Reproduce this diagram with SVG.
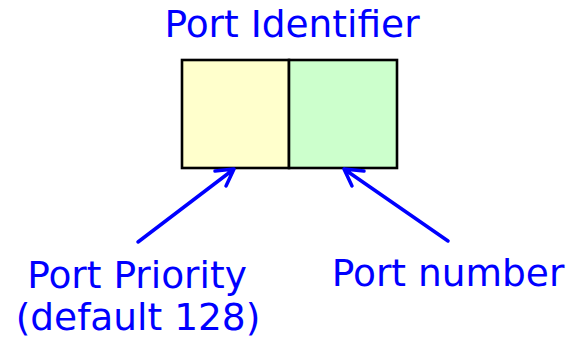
<svg xmlns="http://www.w3.org/2000/svg" width="569" height="340" viewBox="0 0 569 340">
  <style>
    .lbl { font-family: "DejaVu Sans", Verdana, sans-serif; font-size: 37.5px; fill: #0000ff; text-anchor: middle; }
    .field { stroke: #000; stroke-width: 2.6; }
    .arrow { stroke: #0000ff; stroke-width: 3.5; fill: none; stroke-linecap: round; stroke-linejoin: round; }
  </style>
  <rect width="569" height="340" fill="#fff"/>

  <g id="title">
    <text class="lbl" x="292" y="37">Port Identifier</text>
  </g>
  <g id="priority-field">
    <rect class="field" x="182" y="60" width="107" height="108" fill="#ffffcc"/>
  </g>
  <g id="number-field">
    <rect class="field" x="289" y="60" width="108" height="108" fill="#ccffcc"/>
  </g>

  <g id="connectors">
    <path class="arrow" d="M138,242 L234,169 M234,169 L215,171 M234,169 L226,186"/>
    <path class="arrow" d="M448,241 L344,169 M344,169 L364,171 M344,169 L352,186"/>
  </g>

  <g id="priority-label">
    <text class="lbl" x="137" y="288">Port Priority</text>
    <text class="lbl" x="138" y="330">(default 128)</text>
  </g>
  <g id="number-label">
    <text class="lbl" x="448" y="286">Port number</text>
  </g>
</svg>
